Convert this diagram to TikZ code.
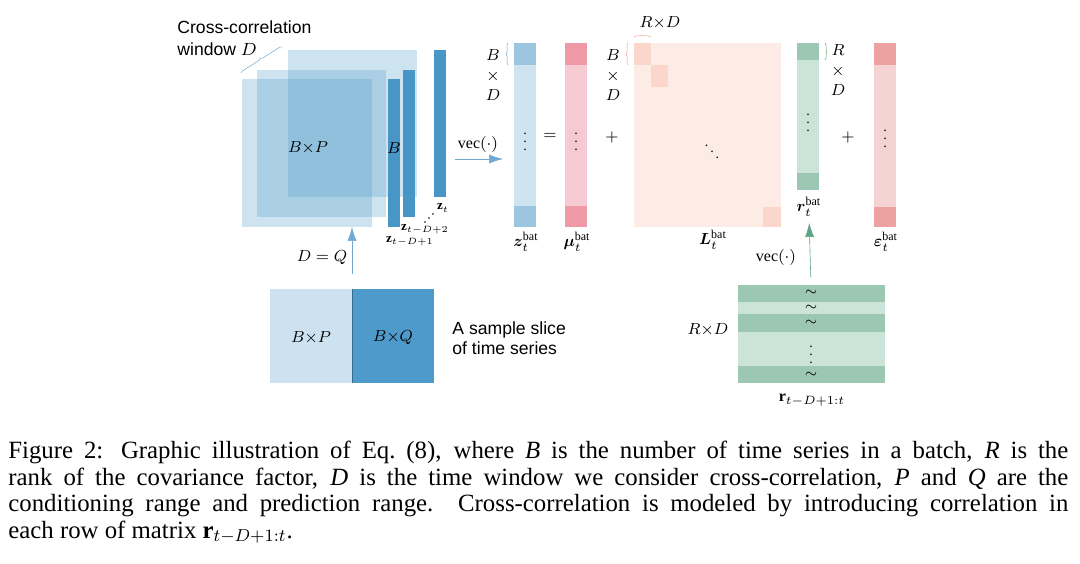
\RequirePackage{fix-cm}
\documentclass[tikz,border=0pt]{standalone}
\usepackage{fontspec}
\usepackage{bm}
\setmainfont{Liberation Serif}
\newfontfamily\labelfont{Liberation Sans}
\usetikzlibrary{arrows.meta,decorations.pathreplacing}

\definecolor{sqblue}{HTML}{4E9AC9}
\definecolor{barblue}{HTML}{4896C6}
\definecolor{zlight}{HTML}{CFE4F1}
\definecolor{zdark}{HTML}{9CC5E0}
\definecolor{mulight}{HTML}{F6CAD2}
\definecolor{mudark}{HTML}{EE99A5}
\definecolor{Llight}{HTML}{FDEBE5}
\definecolor{Lblock}{HTML}{FBD6CB}
\definecolor{Lbrace}{HTML}{F0A08C}
\definecolor{glight}{HTML}{CCE4D8}
\definecolor{gdark}{HTML}{9CC8B3}
\definecolor{garrow}{HTML}{5FA585}
\definecolor{eplight}{HTML}{F6D3D3}
\definecolor{epdark}{HTML}{EDA2A2}
\definecolor{sliceP}{HTML}{CCE2F0}
\definecolor{sliceQ}{HTML}{4E9ACA}
\definecolor{thinblue}{HTML}{6FA9D2}

\tikzset{
  lbl/.style={font=\fontsize{8}{10}\selectfont, inner sep=0pt, align=center},
  dotlbl/.style={font=\fontsize{7}{8}\selectfont, inner sep=0pt},
  zlbl/.style={font=\fontsize{6.5}{7}\selectfont, inner sep=0pt},
  sanslbl/.style={font=\labelfont\fontsize{8.8}{11}\selectfont, inner sep=0pt, align=left},
  arr/.style={-{Latex[length=14pt,width=9pt]}, line width=0.6pt},
  brc/.style={decorate, decoration={brace, amplitude=2pt}, line width=0.5pt},
  sq/.style={fill=sqblue, fill opacity=0.28},
}

\begin{document}
\begin{tikzpicture}[x=0.5pt, y=-0.5pt, scale=2, transform shape]
\useasboundingbox (0,0) rectangle (1080,564);
% stacked windows
\fill[sq] (288,50) rectangle (417,197);
\fill[sq] (257,70) rectangle (386,217);
\fill[sq] (242,79) rectangle (372,227);
\coordinate (front) at (307,227);
\fill[barblue] (388,79) rectangle (400,227);
\fill[barblue] (403,70) rectangle (415,217);
\fill[barblue] (434,50) rectangle (446,197);
\node[lbl] (bp) at (308,148) {$B{\times}P$};
\node[lbl] (bb) at (394,148) {$B$};
\node[sanslbl, anchor=north west] (ccw) at (177,20) {Cross-correlation\\window $D$};
\draw[brc, thinblue] (241,73) -- (282,47);
\node[zlbl] (zt) at (443,208) {$\mathbf{z}_t$};
\foreach \i in {0,1,2}
  \fill (425+4*\i,222-4*\i) circle (0.9);
\node[zlbl] (zb) at (425,229) {$\mathbf{z}_{t-D+2}$};
\node[zlbl] (za) at (410,241) {$\mathbf{z}_{t-D+1}$};
\node[lbl] (dq) at (322,258) {$D=Q$};

% sample slice
\fill[sliceP] (270,289) rectangle (352,383);
\fill[sliceQ] (352,289) rectangle (434,383);
\coordinate (slice) at (352,289);
\draw[sliceQ!70!black, line width=0.8pt] (352,289) -- (352,383);
\node[lbl] (sp) at (311,338) {$B{\times}P$};
\node[lbl] (sqq) at (393,338) {$B{\times}Q$};
\node[sanslbl, anchor=north west, font=\labelfont\fontsize{8.8}{10}\selectfont] (sample) at (452,321) {A sample slice\\of time series};
\draw[arr, thinblue, shorten <=15pt] (slice) -- (slice |- front);

% vec arrow
\node[lbl] (vec1) at (478,145) {$\mathrm{vec}(\cdot)$};
\coordinate (vecin) at (455,159);
\coordinate (zin) at (503,159);
\draw[arr, thinblue] (vecin) -- (zin);

% z bar
\fill[zlight] (514,43) rectangle (536,227);
\fill[zdark] (514,43) rectangle (536,65);
\fill[zdark] (514,206) rectangle (536,227);
\draw[brc, thinblue] (508,65) -- (508,43);
\node[lbl] (zdim) at (493,75) {$B$\\$\times$\\$D$};
\node[dotlbl] (zvd) at (525,136) {$\vdots$};
\node[lbl] (eq) at (550,136) {$=$};
\node[lbl] (zlab) at (526,242) {$\bm{z}_t^{\mathrm{bat}}$};

% mu bar
\fill[mulight] (565,43) rectangle (587,227);
\fill[mudark] (565,43) rectangle (587,65);
\fill[mudark] (565,206) rectangle (587,227);
\node[dotlbl] (muvd) at (576,136) {$\vdots$};
\node[lbl] (mulab) at (577,242) {$\bm{\mu}_t^{\mathrm{bat}}$};
\node[lbl] (plus1) at (612,138) {$+$};

% L matrix
\fill[Llight] (634,43) rectangle (781,227);
\fill[Lblock] (634,43) rectangle (651,65);
\fill[Lblock] (651,65) rectangle (668,87);
\fill[Lblock] (763,207) rectangle (781,227);
\draw[brc, Lbrace] (634,37) -- (651,37);
\draw[brc, Lbrace] (628,65) -- (628,43);
\node[lbl] (ldim) at (613,75) {$B$\\$\times$\\$D$};
\node[lbl] (rdtop) at (660,23) {$R{\times}D$};
\node[dotlbl] (ldd) at (712,146) {$\ddots$};
\node[lbl] (llab) at (713,240) {$\bm{L}_t^{\mathrm{bat}}$};

% r bar
\fill[glight] (797,43) rectangle (819,190);
\fill[gdark] (797,43) rectangle (819,60);
\fill[gdark] (797,173) rectangle (819,190);
\draw[brc, garrow] (825,43) -- (825,60);
\node[lbl] (rdim) at (838,70) {$R$\\$\times$\\$D$};
\node[dotlbl] (rvd) at (808,117) {$\vdots$};
\node[lbl] (rlab) at (809,207) {$\bm{r}_t^{\mathrm{bat}}$};
\node[lbl] (plus2) at (848,138) {$+$};

% epsilon bar
\fill[eplight] (874,43) rectangle (896,227);
\fill[epdark] (874,43) rectangle (896,65);
\fill[epdark] (874,207) rectangle (896,227);
\node[dotlbl] (epvd) at (885,133) {$\vdots$};
\node[lbl] (eplab) at (886,242) {$\bm{\varepsilon}_t^{\mathrm{bat}}$};

% noise matrix
\fill[glight] (738,285) rectangle (885,383);
\foreach \ya/\yb in {285/302, 314/332, 366/383}
  \fill[gdark] (738,\ya) rectangle (885,\yb);
\coordinate (rslice) at (811,285);
\foreach \yy in {293,308,323,375}
  \node[dotlbl] at (811,\yy) {$\sim$};
\node[dotlbl] (gvd) at (811,349) {$\vdots$};
\node[lbl] (grd) at (708,330) {$R{\times}D$};
\node[lbl] (glab) at (812,400) {$\mathbf{r}_{t-D+1:t}$};
\node[lbl] (vec2) at (776,258) {$\mathrm{vec}(\cdot)$};
\draw[arr, garrow, shorten <=8pt, shorten >=6pt] (rslice) -- (rlab.south);

% caption
\node[anchor=north west, inner sep=0pt, text width=530pt, align=justify,
  font=\fontsize{12.4}{13.2}\selectfont] (caption) at (8,441)
  {Figure 2: Graphic illustration of Eq.~(8), where \textit{B} is the number of time series in a batch, \textit{R} is the\linebreak
   rank of the covariance factor, \textit{D} is the time window we consider cross-correlation, \textit{P} and \textit{Q} are the\linebreak
   conditioning range and prediction range. Cross-correlation is modeled by introducing correlation in\linebreak
   each row of matrix \textbf{r}$_{t-D+1:t}$.};
\end{tikzpicture}
\end{document}
